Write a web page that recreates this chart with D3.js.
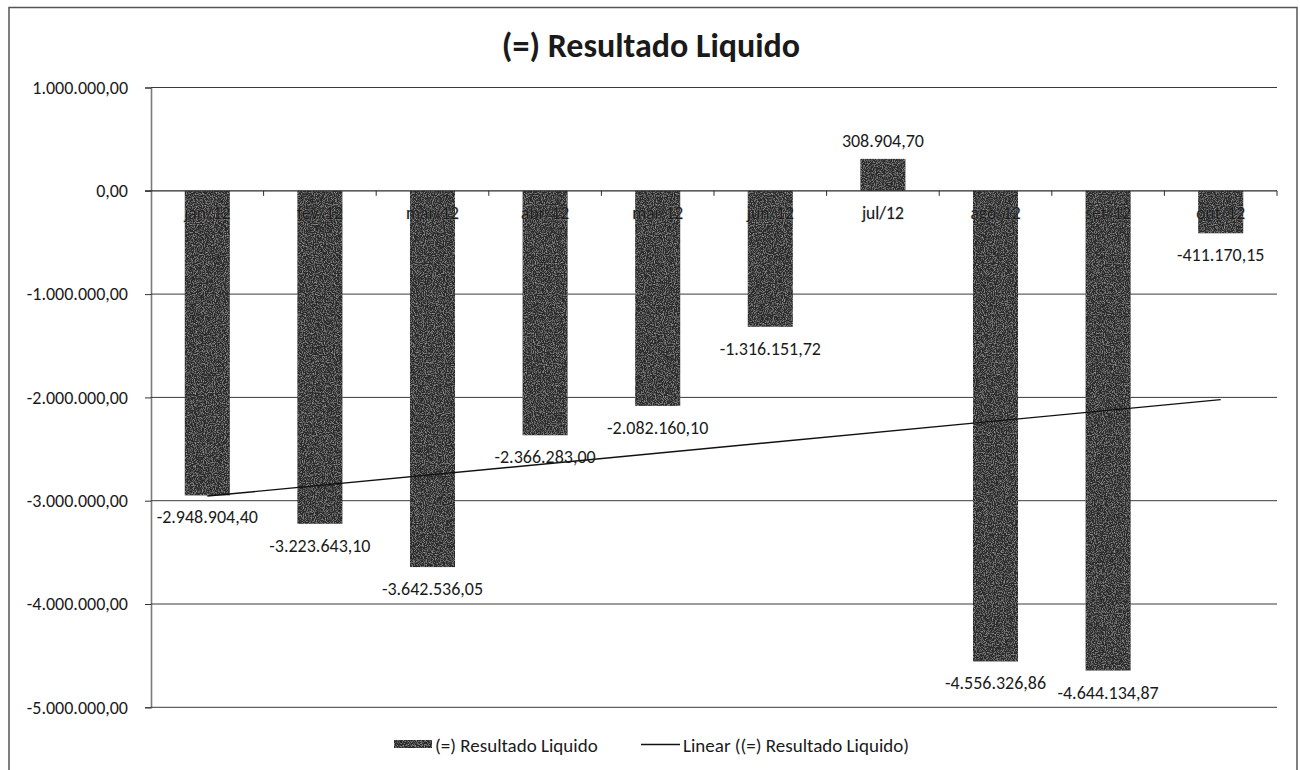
<!DOCTYPE html>
<html>
<head>
<meta charset="utf-8">
<script src="https://cdn.jsdelivr.net/npm/d3@7"></script>
<style>
  html, body { margin: 0; padding: 0; background: #fff; }
  svg { display: block; }
  text { font-family: Carlito, Calibri, Lato, "Open Sans", sans-serif; fill: #1a1a1a; }
</style>
</head>
<body>
<svg id="chart" width="1300" height="770"></svg>
<script>
// Monthly net result (R$)
const months = ["jan/12", "fev/12", "mar/12", "abr/12", "mai/12", "jun/12", "jul/12", "ago/12", "set/12", "out/12"];
const resultado = [-2948904.40, -3223643.10, -3642536.05, -2366283.00, -2082160.10, -1316151.72, 308904.70, -4556326.86, -4644134.87, -411170.15];
const yTicks = [1000000, 0, -1000000, -2000000, -3000000, -4000000, -5000000];
const title = "(=) Resultado Liquido";
const seriesName = "(=) Resultado Liquido";
const trendName = "Linear ((=) Resultado Liquido)";

// pt-BR number format: 1.234.567,89
const fmt = v => {
  const s = d3.format(",.2f")(v);
  return s.replace(/,/g, "#").replace(/\./g, ",").replace(/#/g, ".").replace("−", "-");
};

const svg = d3.select("#chart");
const plot = { left: 151, right: 1277, top: 87.5, bottom: 707.3 };
const numSize = "18px";

// Grain texture used by the bars
const defs = svg.append("defs");
const f = defs.append("filter").attr("id", "grain").attr("x", 0).attr("y", 0).attr("width", 1).attr("height", 1);
f.append("feTurbulence").attr("type", "fractalNoise").attr("baseFrequency", 0.9).attr("numOctaves", 2).attr("seed", 4).attr("result", "n");
f.append("feColorMatrix").attr("in", "n").attr("type", "matrix")
  .attr("values", "0 0 0 0 0.62  0 0 0 0 0.62  0 0 0 0 0.62  1.3 0 0 0 -0.6").attr("result", "w");
f.append("feComposite").attr("in", "w").attr("in2", "SourceGraphic").attr("operator", "in").attr("result", "wc");
const fm = f.append("feMerge");
fm.append("feMergeNode").attr("in", "SourceGraphic");
fm.append("feMergeNode").attr("in", "wc");

// Chart frame
svg.append("rect").attr("x", 9).attr("y", 7.5).attr("width", 1288).attr("height", 780)
  .attr("fill", "none").attr("stroke", "#555").attr("stroke-width", 1.5);

// Title
svg.append("text").attr("x", 651).attr("y", 57).attr("text-anchor", "middle")
  .style("font-size", "34px").style("font-weight", "bold").text(title);

const x = d3.scaleBand().domain(months).range([plot.left, plot.right]).paddingInner(0.6).paddingOuter(0.3);
const step = (plot.right - plot.left) / months.length;
const y = d3.scaleLinear().domain([-5000000, 1000000]).range([plot.bottom, plot.top]);

// Horizontal gridlines + y labels
const yAxis = d3.axisLeft(y).tickValues(yTicks).tickFormat(fmt).tickSize(6).tickPadding(17);
const gy = svg.append("g").attr("transform", `translate(${plot.left},0)`).call(yAxis);
gy.select(".domain").attr("stroke", "#7a7a7a").attr("stroke-width", 1.6);
gy.selectAll(".tick line").attr("stroke", "#333");
gy.selectAll(".tick text").style("font-size", numSize).attr("fill", "#1a1a1a");

svg.append("g").selectAll("line").data(yTicks.filter(v => v !== 0)).join("line")
  .attr("x1", plot.left).attr("x2", plot.right)
  .attr("y1", d => y(d)).attr("y2", d => y(d))
  .attr("stroke", "#3a3a3a").attr("stroke-width", 1);

// Bars
svg.append("g").selectAll("rect").data(resultado).join("rect")
  .attr("x", (d, i) => x(months[i]))
  .attr("width", x.bandwidth())
  .attr("y", d => y(Math.max(0, d)))
  .attr("height", d => Math.abs(y(d) - y(0)))
  .attr("fill", "#2c2c2c")
  .attr("filter", "url(#grain)");

// Category axis along zero
const y0 = y(0);
svg.append("line").attr("x1", plot.left - 6).attr("x2", plot.right).attr("y1", y0).attr("y2", y0)
  .attr("stroke", "#2a2a2a").attr("stroke-width", 1.2);
svg.append("g").selectAll("line").data(d3.range(1, months.length + 1)).join("line")
  .attr("x1", i => plot.left + i * step).attr("x2", i => plot.left + i * step)
  .attr("y1", y0).attr("y2", y0 + 5).attr("stroke", "#2a2a2a");
svg.append("g").selectAll("text").data(months).join("text")
  .attr("x", d => x(d) + x.bandwidth() / 2)
  .attr("y", y0 + 28)
  .attr("text-anchor", "middle")
  .style("font-size", "17.5px")
  .attr("fill", "#1f1f1f")
  .attr("stroke", "rgba(170,170,170,0.5)").attr("stroke-width", 0.8)
  .style("paint-order", "stroke")
  .text(d => d);

// Linear trendline (least squares over month index)
const n = resultado.length;
const xs = d3.range(1, n + 1);
const mx = d3.mean(xs), my = d3.mean(resultado);
const slope = d3.sum(xs, (v, i) => (v - mx) * (resultado[i] - my)) / d3.sum(xs, v => (v - mx) ** 2);
const icpt = my - slope * mx;
const cx = i => x(months[i]) + x.bandwidth() / 2;
svg.append("line")
  .attr("x1", cx(0)).attr("y1", y(icpt + slope * 1))
  .attr("x2", cx(n - 1)).attr("y2", y(icpt + slope * n))
  .attr("stroke", "#111").attr("stroke-width", 1.4);

// Value labels
svg.append("g").selectAll("text").data(resultado).join("text")
  .attr("x", (d, i) => cx(i))
  .attr("y", d => d < 0 ? y(d) + 28 : y(d) - 12)
  .attr("text-anchor", "middle")
  .style("font-size", numSize)
  .text(d => fmt(d));

// Legend
const lg = svg.append("g");
lg.append("rect").attr("x", 394).attr("y", 740).attr("width", 38).attr("height", 8)
  .attr("fill", "#2c2c2c").attr("filter", "url(#grain)");
lg.append("text").attr("x", 435).attr("y", 752).style("font-size", "19px").text(seriesName);
lg.append("line").attr("x1", 641).attr("x2", 680).attr("y1", 744.5).attr("y2", 744.5)
  .attr("stroke", "#111").attr("stroke-width", 1.4);
lg.append("text").attr("x", 683).attr("y", 752).style("font-size", "19px").text(trendName);
</script>
</body>
</html>
